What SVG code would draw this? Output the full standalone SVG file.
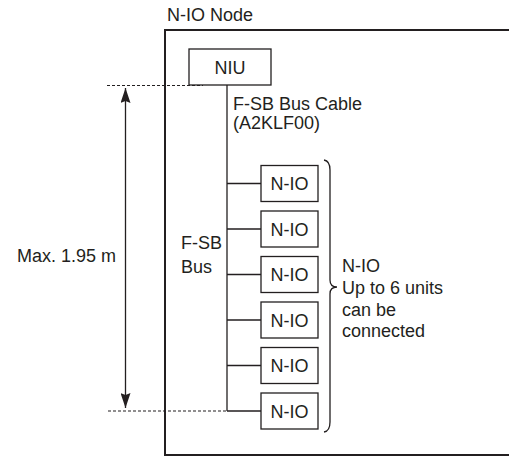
<svg xmlns="http://www.w3.org/2000/svg" width="509" height="456" viewBox="0 0 509 456">
<style>
text{font-family:"Liberation Sans",Arial,sans-serif;font-size:18px;fill:#231f20}
.box{fill:#fff;stroke:#231f20;stroke-width:1.3}
.ln{stroke:#231f20;stroke-width:1.3;fill:none}
.dot{stroke:#231f20;stroke-width:1.2;stroke-dasharray:3 2;fill:none}
</style>
<defs>
<marker id="ah" viewBox="0 0 10 16" refX="10" refY="5" markerWidth="10" markerHeight="16" markerUnits="userSpaceOnUse" orient="auto-start-reverse">
<path d="M0,0 L15,5 L0,10 L3,5 Z" fill="#231f20"/>
</marker>
<marker id="ah2" viewBox="0 0 15 10" refX="15" refY="5" markerWidth="15" markerHeight="10" markerUnits="userSpaceOnUse" orient="auto-start-reverse">
<path d="M0,0 L15,5 L0,10 L2,5 Z" fill="#231f20"/>
</marker>
</defs>
<g id="frame">
<path d="M509,30 H165 V455 H509" fill="none" stroke="#231f20" stroke-width="2"/>
<text x="167" y="21">N-IO Node</text>
</g>
<g id="connectors">
<path class="ln" d="M227,85 V411"/>
<path class="ln" d="M227,183.5 H261 M227,229 H261 M227,274.5 H261 M227,320 H261 M227,365.5 H261 M227,411 H261"/>
<path class="dot" d="M107,85.5 H203"/>
<path class="dot" d="M108,411 H227"/>
<path class="ln" d="M125.5,88 V408" marker-start="url(#ah2)" marker-end="url(#ah2)"/>
<path class="ln" stroke-width="1.5" d="M324,160 Q330,161 330,170 L330,280 Q330,287 337,287 Q330,287 330,294 L330,422 Q330,431 324,432"/>
</g>
<g id="niu">
<rect class="box" x="189" y="49" width="82" height="36"/>
<text x="230" y="74" text-anchor="middle">NIU</text>
</g>
<g id="nio1"><rect class="box" x="261" y="165.5" width="57" height="36"/><text x="289.5" y="190" text-anchor="middle">N-IO</text></g>
<g id="nio2"><rect class="box" x="261" y="211" width="57" height="36"/><text x="289.5" y="235.5" text-anchor="middle">N-IO</text></g>
<g id="nio3"><rect class="box" x="261" y="256.5" width="57" height="36"/><text x="289.5" y="281" text-anchor="middle">N-IO</text></g>
<g id="nio4"><rect class="box" x="261" y="302" width="57" height="36"/><text x="289.5" y="326.5" text-anchor="middle">N-IO</text></g>
<g id="nio5"><rect class="box" x="261" y="347.5" width="57" height="36"/><text x="289.5" y="372" text-anchor="middle">N-IO</text></g>
<g id="nio6"><rect class="box" x="261" y="393" width="57" height="36"/><text x="289.5" y="417.5" text-anchor="middle">N-IO</text></g>
<g id="labels">
<text x="233" y="110">F-SB Bus Cable</text>
<text x="233" y="129">(A2KLF00)</text>
<text x="181" y="249">F-SB</text>
<text x="181" y="273">Bus</text>
<text x="116" y="262" text-anchor="end">Max. 1.95 m</text>
<text x="342" y="272">N-IO</text>
<text x="342" y="294">Up to 6 units</text>
<text x="342" y="315.5">can be</text>
<text x="342" y="337">connected</text>
</g>
</svg>
